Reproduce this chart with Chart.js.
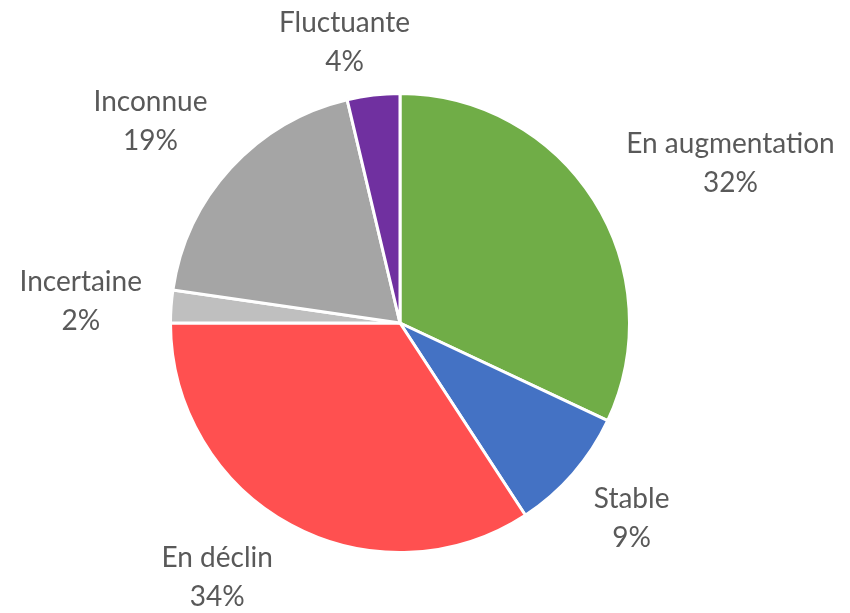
<!DOCTYPE html>
<html>
<head>
<meta charset="utf-8">
<script src="https://cdn.jsdelivr.net/npm/chart.js@4"></script>
<style>
  html, body { margin: 0; padding: 0; background: #ffffff; }
  #wrap { width: 850px; height: 613px; }
</style>
</head>
<body>
<div id="wrap"><canvas id="pieChart" width="850" height="613"></canvas></div>
<script>
const categories = ["En augmentation", "Stable", "En déclin", "Incertaine", "Inconnue", "Fluctuante"];
const shares = [32, 8.8, 34.2, 2.3, 19, 3.7];
const sliceColours = ["#70AD47", "#4472C4", "#FF5050", "#BFBFBF", "#A5A5A5", "#7030A0"];

const labelFont = "28px Lato";
const labelColour = "#595959";
const lineHeight = 39;

function clamp(v, lo, hi) {
  return Math.min(hi, Math.max(lo, v));
}

// Draws "name / xx%" outside each slice, pushed away from the pie along the mid angle
const outsideLabels = {
  id: "outsideLabels",
  afterDatasetsDraw(chart) {
    const ctx = chart.ctx;
    const meta = chart.getDatasetMeta(0);
    ctx.save();
    ctx.font = labelFont;
    ctx.fillStyle = labelColour;
    ctx.textAlign = "center";
    ctx.textBaseline = "middle";
    meta.data.forEach((arc, i) => {
      const p = arc.getProps(["x", "y", "startAngle", "endAngle", "outerRadius"], true);
      const mid = (p.startAngle + p.endAngle) / 2;
      const dx = Math.cos(mid);
      const dy = Math.sin(mid);
      const lines = [categories[i], Math.round(shares[i]) + "%"];
      const w = Math.max(...lines.map((t) => ctx.measureText(t).width));
      const h = lineHeight * lines.length;
      const r = p.outerRadius + 20;
      const qx = p.x + dx * r;
      const qy = p.y + dy * r;
      const cx = qx + clamp(3.5 * dx, -1.15, 1.15) * w / 2;
      const cy = qy + clamp(1.25 * dy, -0.85, 0.9) * h / 2;
      lines.forEach((t, j) => {
        ctx.fillText(t, cx, cy - h / 2 + lineHeight * (j + 0.5));
      });
    });
    ctx.restore();
  },
};

const ctx = document.getElementById("pieChart");
new Chart(ctx, {
  type: "pie",
  data: {
    labels: categories,
    datasets: [
      {
        data: shares,
        backgroundColor: sliceColours,
        borderColor: "#ffffff",
        borderWidth: 3,
      },
    ],
  },
  options: {
    responsive: false,
    animation: false,
    layout: { padding: { left: 169, right: 219, top: 92, bottom: 59 } },
    plugins: {
      legend: { display: false },
      tooltip: { enabled: false },
    },
  },
  plugins: [outsideLabels],
});
</script>
</body>
</html>
